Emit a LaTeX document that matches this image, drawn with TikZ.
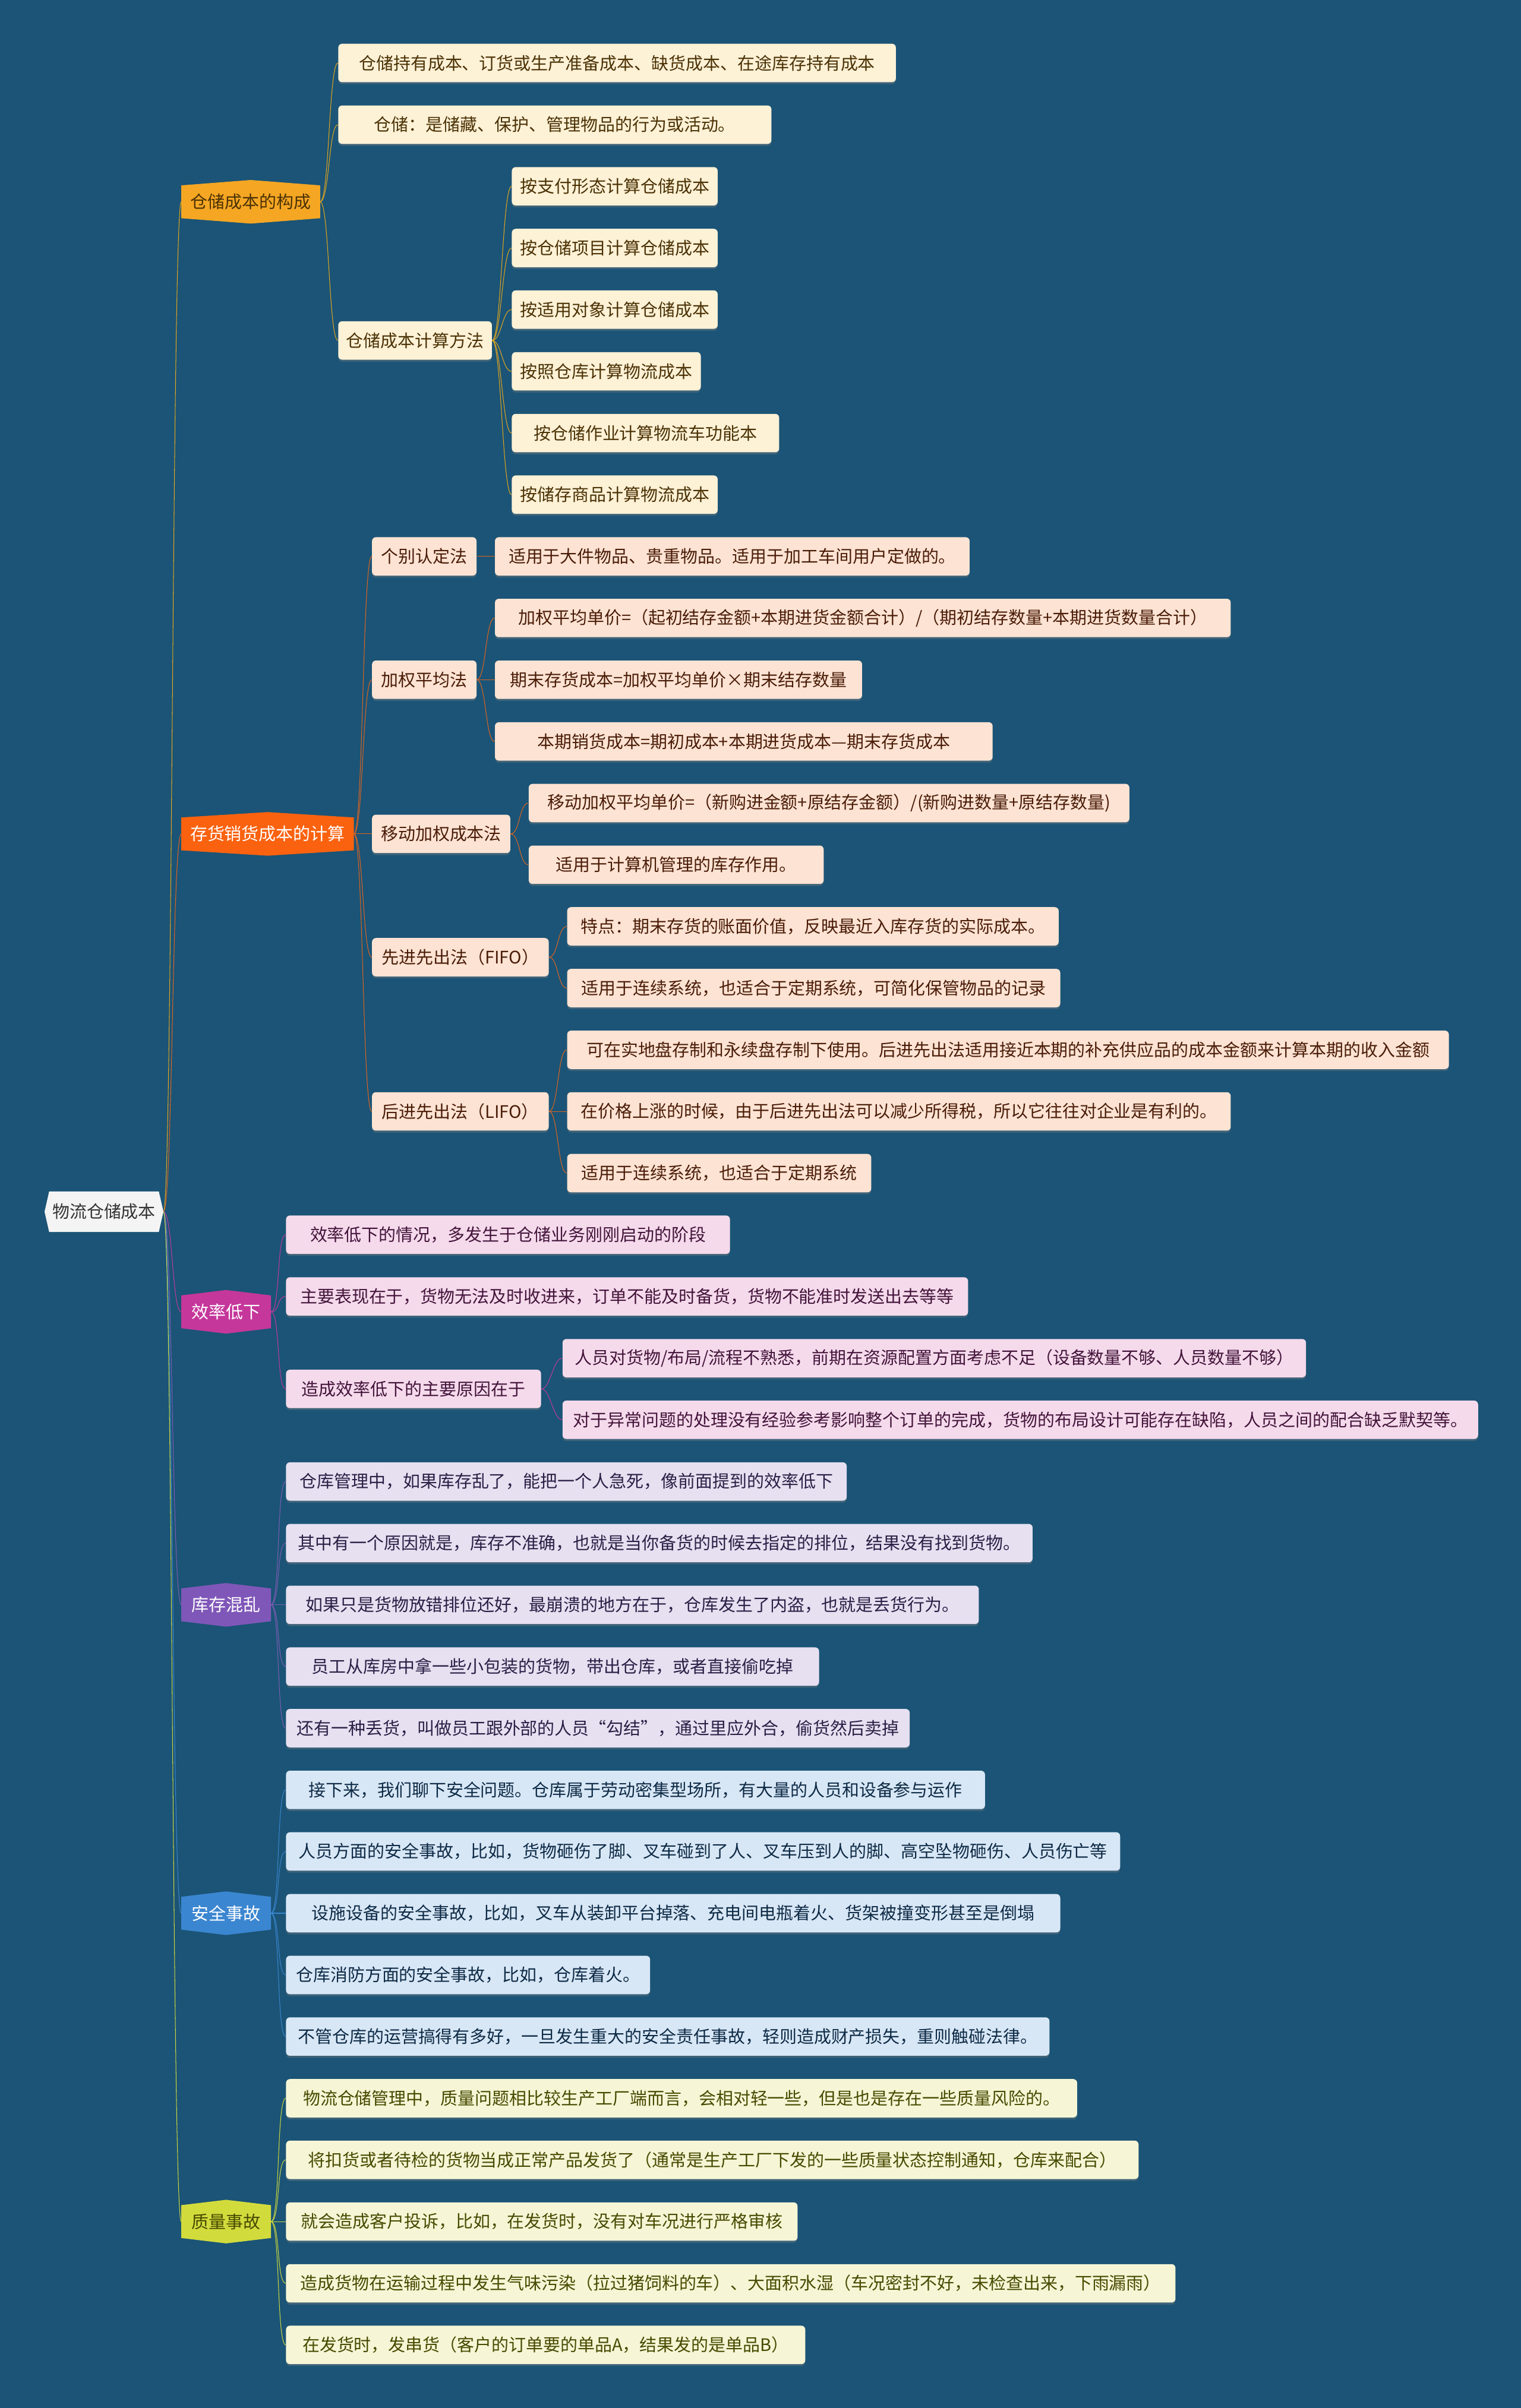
\documentclass[tikz,border=0pt]{standalone}
\usepackage{fontspec}
\newfontfamily\cjk{Noto Sans CJK SC}
\usetikzlibrary{shadows}

\definecolor{pagebg}{RGB}{27,84,118}
\definecolor{rootfill}{RGB}{244,244,244}
% 各分支颜色
\definecolor{hubA}{RGB}{245,166,35}  \definecolor{boxA}{RGB}{253,241,214} \definecolor{txtA}{RGB}{75,50,5}   \definecolor{lnA}{RGB}{227,166,30}
\definecolor{hubB}{RGB}{250,98,15}   \definecolor{boxB}{RGB}{253,227,211} \definecolor{txtB}{RGB}{74,28,8}   \definecolor{lnB}{RGB}{226,100,30}
\definecolor{hubC}{RGB}{197,55,155}  \definecolor{boxC}{RGB}{245,218,236} \definecolor{txtC}{RGB}{67,20,58}  \definecolor{lnC}{RGB}{193,58,158}
\definecolor{hubD}{RGB}{127,87,184}  \definecolor{boxD}{RGB}{230,224,241} \definecolor{txtD}{RGB}{42,31,69}  \definecolor{lnD}{RGB}{126,92,181}
\definecolor{hubE}{RGB}{59,134,209}  \definecolor{boxE}{RGB}{216,231,246} \definecolor{txtE}{RGB}{13,42,69}  \definecolor{lnE}{RGB}{58,134,208}
\definecolor{hubF}{RGB}{210,219,60}  \definecolor{boxF}{RGB}{246,246,214} \definecolor{txtF}{RGB}{71,74,0}   \definecolor{lnF}{RGB}{205,215,62}

\pgfdeclarelayer{back}
\pgfsetlayers{back,main}

\begin{document}
\begin{tikzpicture}[x=1pt, y=-1pt, line width=0.8pt,
  every node/.style={font=\cjk\fontsize{11.2}{13}\selectfont, inner sep=0pt, anchor=west},
  leaf/.style={rounded corners=2.5pt, minimum height=25pt,
    drop shadow={shadow xshift=0pt, shadow yshift=-1.3pt, opacity=.35}},
  hub/.style={minimum height=21pt},
  leafA/.style={leaf, fill=boxA, text=txtA}, leafB/.style={leaf, fill=boxB, text=txtB},
  leafC/.style={leaf, fill=boxC, text=txtC}, leafD/.style={leaf, fill=boxD, text=txtD},
  leafE/.style={leaf, fill=boxE, text=txtE}, leafF/.style={leaf, fill=boxF, text=txtF},
  link/.style={out=0, in=180, distance=6pt}]

  \begin{pgfonlayer}{back}
    \fill[pagebg] (0,0) rectangle (990,1568);
  \end{pgfonlayer}
  \useasboundingbox (0,0) rectangle (990,1568);

  % 中心主题
  \node[minimum width=71pt, minimum height=26pt, text=black!80] (root) at (32,789) {物流仓储成本};

  % 仓储成本的构成
  \node[hub, minimum width=90pt, text=txtA] (g1) at (118,131.4) {仓储成本的构成};
  \node[leafA, minimum width=363pt] (a1) at (220,41) {仓储持有成本、订货或生产准备成本、缺货成本、在途库存持有成本};
  \node[leafA, minimum width=282pt] (a2) at (220,81.2) {仓储：是储藏、保护、管理物品的行为或活动。};
  \node[leafA, minimum width=100pt] (a3) at (220,221.7) {仓储成本计算方法};
  \node[leafA, minimum width=134pt] (a31) at (333,121.3) {按支付形态计算仓储成本};
  \node[leafA, minimum width=134pt] (a32) at (333,161.5) {按仓储项目计算仓储成本};
  \node[leafA, minimum width=134pt] (a33) at (333,201.6) {按适用对象计算仓储成本};
  \node[leafA, minimum width=123pt] (a34) at (333,241.8) {按照仓库计算物流成本};
  \node[leafA, minimum width=174pt] (a35) at (333,282) {按仓储作业计算物流车功能本};
  \node[leafA, minimum width=134pt] (a36) at (333,322.1) {按储存商品计算物流成本};

  % 存货销货成本的计算
  \node[hub, minimum width=112pt, text=white] (g2) at (118,543) {存货销货成本的计算};
  \node[leafB, minimum width=68pt] (b1) at (242,362.3) {个别认定法};
  \node[leafB, minimum width=309pt] (b11) at (322,362.3) {适用于大件物品、贵重物品。适用于加工车间用户定做的。};
  \node[leafB, minimum width=68pt] (b2) at (242,442.6) {加权平均法};
  \node[leafB, minimum width=479pt] (b21) at (322,402.4) {加权平均单价=（起初结存金额+本期进货金额合计）/（期初结存数量+本期进货数量合计）};
  \node[leafB, minimum width=239pt] (b22) at (322,442.6) {期末存货成本=加权平均单价×期末结存数量};
  \node[leafB, minimum width=324pt] (b23) at (322,482.8) {本期销货成本=期初成本+本期进货成本—期末存货成本};
  \node[leafB, minimum width=90pt] (b3) at (242,543) {移动加权成本法};
  \node[leafB, minimum width=391pt] (b31) at (344,522.9) {移动加权平均单价=（新购进金额+原结存金额）/(新购进数量+原结存数量)};
  \node[leafB, minimum width=192pt] (b32) at (344,563.1) {适用于计算机管理的库存作用。};
  \node[leafB, minimum width=115pt] (b4) at (242,623.3) {先进先出法（FIFO）};
  \node[leafB, minimum width=320pt] (b41) at (369,603.2) {特点：期末存货的账面价值，反映最近入库存货的实际成本。};
  \node[leafB, minimum width=321pt] (b42) at (369,643.4) {适用于连续系统，也适合于定期系统，可简化保管物品的记录};
  \node[leafB, minimum width=115pt] (b5) at (242,723.7) {后进先出法（LIFO）};
  \node[leafB, minimum width=574pt] (b51) at (369,683.6) {可在实地盘存制和永续盘存制下使用。后进先出法适用接近本期的补充供应品的成本金额来计算本期的收入金额};
  \node[leafB, minimum width=432pt] (b52) at (369,723.7) {在价格上涨的时候，由于后进先出法可以减少所得税，所以它往往对企业是有利的。};
  \node[leafB, minimum width=198pt] (b53) at (369,763.9) {适用于连续系统，也适合于定期系统};

  % 效率低下
  \node[hub, minimum width=58pt, text=white] (g3) at (118,854.2) {效率低下};
  \node[leafC, minimum width=289pt] (c1) at (186,804) {效率低下的情况，多发生于仓储业务刚刚启动的阶段};
  \node[leafC, minimum width=444pt] (c2) at (186,844.2) {主要表现在于，货物无法及时收进来，订单不能及时备货，货物不能准时发送出去等等};
  \node[leafC, minimum width=166pt] (c3) at (186,904.4) {造成效率低下的主要原因在于};
  \node[leafC, minimum width=484pt] (c31) at (366,884.4) {人员对货物/布局/流程不熟悉，前期在资源配置方面考虑不足（设备数量不够、人员数量不够）};
  \node[leafC, minimum width=596pt] (c32) at (366,924.5) {对于异常问题的处理没有经验参考影响整个订单的完成，货物的布局设计可能存在缺陷，人员之间的配合缺乏默契等。};

  % 库存混乱
  \node[hub, minimum width=58pt, text=white] (g4) at (118,1045) {库存混乱};
  \node[leafD, minimum width=365pt] (d1) at (186,964.7) {仓库管理中，如果库存乱了，能把一个人急死，像前面提到的效率低下};
  \node[leafD, minimum width=486pt] (d2) at (186,1004.8) {其中有一个原因就是，库存不准确，也就是当你备货的时候去指定的排位，结果没有找到货物。};
  \node[leafD, minimum width=451pt] (d3) at (186,1045) {如果只是货物放错排位还好，最崩溃的地方在于，仓库发生了内盗，也就是丢货行为。};
  \node[leafD, minimum width=347pt] (d4) at (186,1085.2) {员工从库房中拿一些小包装的货物，带出仓库，或者直接偷吃掉};
  \node[leafD, minimum width=406pt] (d5) at (186,1125.3) {还有一种丢货，叫做员工跟外部的人员“勾结”，通过里应外合，偷货然后卖掉};

  % 安全事故
  \node[hub, minimum width=58pt, text=white] (g5) at (118,1245.8) {安全事故};
  \node[leafE, minimum width=455pt] (e1) at (186,1165.5) {接下来，我们聊下安全问题。仓库属于劳动密集型场所，有大量的人员和设备参与运作};
  \node[leafE, minimum width=543pt] (e2) at (186,1205.6) {人员方面的安全事故，比如，货物砸伤了脚、叉车碰到了人、叉车压到人的脚、高空坠物砸伤、人员伤亡等};
  \node[leafE, minimum width=504pt] (e3) at (186,1245.8) {设施设备的安全事故，比如，叉车从装卸平台掉落、充电间电瓶着火、货架被撞变形甚至是倒塌};
  \node[leafE, minimum width=237pt] (e4) at (186,1286) {仓库消防方面的安全事故，比如，仓库着火。};
  \node[leafE, minimum width=497pt] (e5) at (186,1326.1) {不管仓库的运营搞得有多好，一旦发生重大的安全责任事故，轻则造成财产损失，重则触碰法律。};

  % 质量事故
  \node[hub, minimum width=58pt, text=txtF] (g6) at (118,1446.6) {质量事故};
  \node[leafF, minimum width=515pt] (f1) at (186,1366.3) {物流仓储管理中，质量问题相比较生产工厂端而言，会相对轻一些，但是也是存在一些质量风险的。};
  \node[leafF, minimum width=555pt] (f2) at (186,1406.4) {将扣货或者待检的货物当成正常产品发货了（通常是生产工厂下发的一些质量状态控制通知，仓库来配合）};
  \node[leafF, minimum width=333pt] (f3) at (186,1446.6) {就会造成客户投诉，比如，在发货时，没有对车况进行严格审核};
  \node[leafF, minimum width=579pt] (f4) at (186,1486.8) {造成货物在运输过程中发生气味污染（拉过猪饲料的车）、大面积水湿（车况密封不好，未检查出来，下雨漏雨）};
  \node[leafF, minimum width=338pt] (f5) at (186,1526.9) {在发货时，发串货（客户的订单要的单品A，结果发的是单品B）};

  % 六边形底色
  \begin{pgfonlayer}{back}
    \fill[rootfill] (root.north west) -- (root.north east) -- ([xshift=3pt]root.east) -- (root.south east)
      -- (root.south west) -- ([xshift=-3pt]root.west) -- cycle;
    \foreach \n/\c in {g1/hubA, g2/hubB, g3/hubC, g4/hubD, g5/hubE, g6/hubF}
      \fill[\c] (\n.north west) -- ([yshift=3.5pt]\n.north) -- (\n.north east) -- (\n.south east)
        -- ([yshift=-3.5pt]\n.south) -- (\n.south west) -- cycle;
  \end{pgfonlayer}

  % 连线
  \foreach \b/\c in {g1/lnA, g2/lnB, g3/lnC, g4/lnD, g5/lnE, g6/lnF}
    \draw[\c] ([xshift=3pt]root.east) to[link] (\b.west);
  \foreach \a/\b in {g1/a1, g1/a2, g1/a3, a3/a31, a3/a32, a3/a33, a3/a34, a3/a35, a3/a36}
    \draw[lnA] (\a.east) to[link] (\b.west);
  \foreach \a/\b in {g2/b1, g2/b2, g2/b3, g2/b4, g2/b5, b1/b11, b2/b21, b2/b22, b2/b23,
                     b3/b31, b3/b32, b4/b41, b4/b42, b5/b51, b5/b52, b5/b53}
    \draw[lnB] (\a.east) to[link] (\b.west);
  \foreach \a/\b in {g3/c1, g3/c2, g3/c3, c3/c31, c3/c32}
    \draw[lnC] (\a.east) to[link] (\b.west);
  \foreach \b in {d1, d2, d3, d4, d5}
    \draw[lnD] (g4.east) to[link] (\b.west);
  \foreach \b in {e1, e2, e3, e4, e5}
    \draw[lnE] (g5.east) to[link] (\b.west);
  \foreach \b in {f1, f2, f3, f4, f5}
    \draw[lnF] (g6.east) to[link] (\b.west);
\end{tikzpicture}
\end{document}
